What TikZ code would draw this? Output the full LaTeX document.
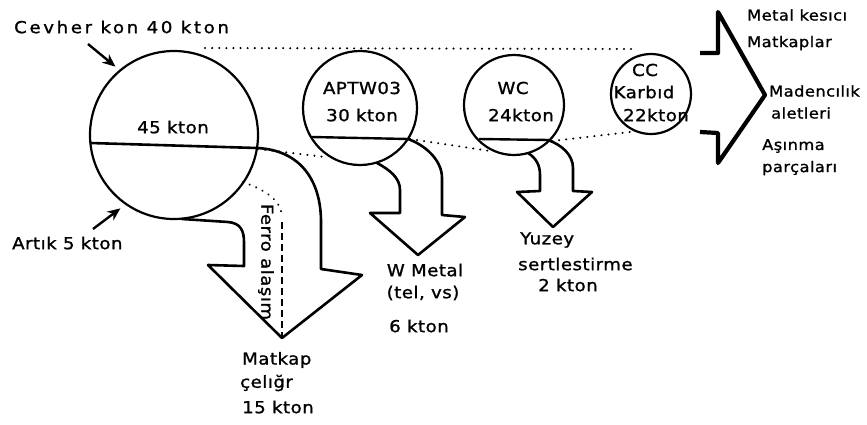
\documentclass[tikz,border=0pt]{standalone}
\usepackage{fontspec}
\setmainfont{DejaVu Sans}
\newfontfamily\lbl[LetterSpace=3,FakeStretch=1.1,FakeBold=1.2]{DejaVu Sans}
\newfontfamily\lblw[LetterSpace=16,FakeStretch=1.1,FakeBold=1.2]{DejaVu Sans}
\usetikzlibrary{arrows.meta}
\begin{document}
\begin{tikzpicture}[x=1pt,y=-1pt,
  txt/.style={font=\lbl\fontsize{16.5}{18}\selectfont, inner sep=0pt},
  stxt/.style={font=\lbl\fontsize{14.8}{16}\selectfont, inner sep=0pt},
  wtxt/.style={font=\lblw\fontsize{16.5}{18}\selectfont, inner sep=0pt},
  ring/.style={circle,draw,line width=2.2pt,inner sep=0pt},
  flow/.style={line width=2.6pt,line join=round,line cap=round},
  dots/.style={line width=2.2pt,line cap=round,dash pattern=on 0.1pt off 7pt},
  ferdash/.style={line width=1.8pt,dash pattern=on 7pt off 4pt},
  ptr/.style={line width=2.4pt,-{Stealth[length=13pt,width=11pt]}}]
\useasboundingbox (0,0) rectangle (867,424);

% dotted links
\draw[dots] (205,48) -- (634,49);
\draw[dots] (258,149) -- (325,157);
\draw[dots] (410,139) -- (490,151);
\draw[dots] (552,141) -- (630,132);

% circles
\node[ring,minimum size=168pt] (big) at (174,135) {};
\node[ring,minimum size=114pt] (aptw) at (360,108) {};
\node[ring,minimum size=100pt] (wc) at (514,105) {};
\node[ring,minimum size=80pt] (cc) at (651,94) {};

% split lines
\draw[line width=2.6pt] (90.5,143) -- (257,148);
\draw[line width=2.4pt] (312,137) -- (408,139);
\draw[line width=2.4pt] (479,139) -- (549,140);

% circle texts
\node[txt] (t45) at (173,127) {45 kton};
\node[txt] (tapt) at (362,88) {APTW03};
\node[txt] (t30) at (362,115) {30 kton};
\node[txt] (twc) at (513,88) {WC};
\node[txt] (t24) at (521,115) {24kton};
\node[txt] (tcc) at (645,70) {CC};
\node[txt] (tkar) at (644,92) {Karbıd};
\node[txt] (t22) at (656,115) {22kton};

% big arrow
\draw[flow] (182,219) -- (228,222) .. controls (240,223) and (244,230) .. (244,242)
  -- (244,266) -- (208,265) -- (282,338) -- (362,275) -- (321,269) -- (321,222)
  .. controls (321,180) and (300,150) .. (257,148);
\draw[dots] (243,182) .. controls (265,190) and (282,200) .. (282,218);
\draw[ferdash] (282,222) -- (282,336);
\node[txt,rotate=-90] (ferro) at (266,262) {Ferro alaşım};

% APTW03 arrow
\draw[flow] (377,163) .. controls (390,170) and (400,178) .. (400,190) -- (400,213)
  -- (370,213) -- (418,255) -- (465,217) -- (442,215) -- (442,178)
  .. controls (442,160) and (425,145) .. (408,139);

% WC arrow
\draw[flow] (528,153) .. controls (536,158) and (540,165) .. (540,175) -- (540,191)
  -- (517,192) -- (553,227) -- (592,192) -- (573,191) -- (573,168)
  .. controls (573,155) and (562,145) .. (548,140);

% chevron
\draw[line width=4.2pt,line join=round] (700,53) -- (718,53) -- (718,12) -- (765,95)
  -- (718,163) -- (718,133) -- (700,132);

% labels with pointers
\node[wtxt,anchor=west] (cevher) at (14,27) {Cevher kon 40 kton};
\node[txt,anchor=west] (artik) at (12,243) {Artık 5 kton};
\coordinate (cevherpt) at (88,44);
\coordinate (artikpt) at (93,229);
\draw[ptr,shorten >=5pt] (cevherpt) -- (big.130);
\draw[ptr,shorten >=6pt] (artikpt) -- (big.235);

% outputs
\node[txt,anchor=west] (mk1) at (242,360) {Matkap};
\node[txt,anchor=west] (mk2) at (240,383) {çelığr};
\node[txt,anchor=west] (mk3) at (242,407) {15 kton};

\node[txt] (wm1) at (425,270) {W Metal};
\node[txt] (wm2) at (423,293) {(tel, vs)};
\node[txt] (wm3) at (419,326) {6 kton};

\node[txt,anchor=west] (yz1) at (520,240) {Yuzey};
\node[txt,anchor=west] (yz2) at (518,264) {sertlestirme};
\node[txt,anchor=west] (yz3) at (538,285) {2 kton};

\node[stxt,anchor=west] (r1) at (747,15) {Metal kesıcı};
\node[stxt,anchor=west] (r2) at (747,43) {Matkaplar};
\node[stxt,anchor=west] (r3) at (769,91) {Madencılık};
\node[stxt,anchor=west] (r4) at (771,113) {aletleri};
\node[stxt,anchor=west] (r5) at (762,146) {Aşınma};
\node[stxt,anchor=west] (r6) at (762,168) {parçaları};
\end{tikzpicture}
\end{document}
